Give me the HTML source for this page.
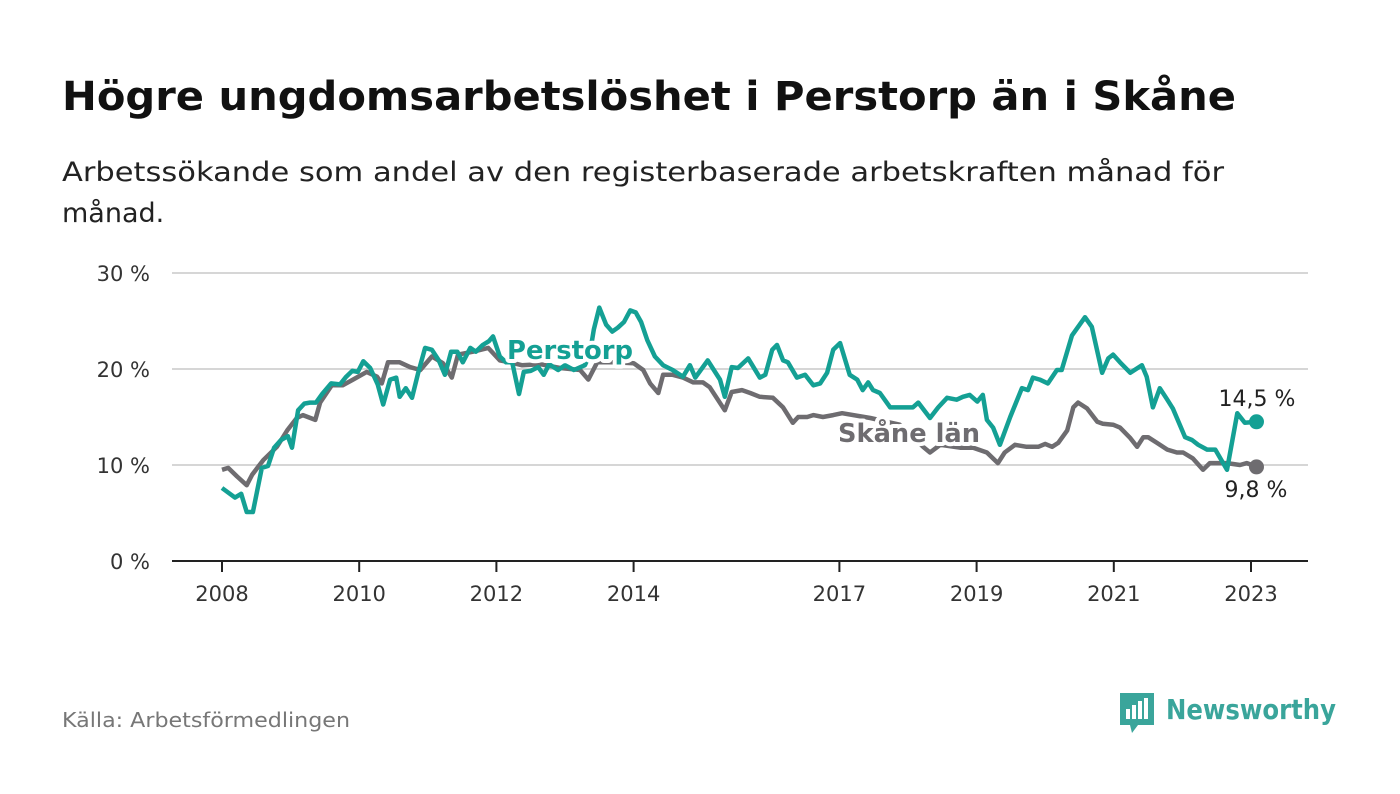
<!DOCTYPE html>
<html><head><meta charset="utf-8"><style>
html,body{margin:0;padding:0;background:#fff;}
svg{display:block;font-family:"DejaVu Sans","Liberation Sans",sans-serif;}
</style></head><body>
<svg id="chart" width="1400" height="794" viewBox="0 0 1400 794">
<text x="62" y="110" font-size="40" font-weight="bold" fill="#111" textLength="1174" lengthAdjust="spacingAndGlyphs">Högre ungdomsarbetslöshet i Perstorp än i Skåne</text>
<text x="62" y="181" font-size="27" fill="#222" textLength="1162" lengthAdjust="spacingAndGlyphs">Arbetssökande som andel av den registerbaserade arbetskraften månad för</text>
<text x="62" y="222" font-size="27" fill="#222">månad.</text>
<g id="grid"></g><g id="series"></g><g id="labels"></g>
<text x="62" y="727" font-size="20" fill="#777" textLength="288" lengthAdjust="spacingAndGlyphs">Källa: Arbetsförmedlingen</text>
<g>
<path d="M1120 693 h34 v32 h-16 l-6 8 l-2 -8 h-10 z" fill="#3aa59b"/>
<rect x="1126" y="709" width="4" height="10" fill="#fff"/><rect x="1132" y="705" width="4" height="14" fill="#fff"/><rect x="1138" y="701" width="4" height="18" fill="#fff"/><rect x="1144" y="698" width="4" height="21" fill="#fff"/>
<text x="1166" y="719" font-size="28" font-weight="bold" fill="#3aa59b" textLength="170" lengthAdjust="spacingAndGlyphs">Newsworthy</text>
</g>
</svg>
<script>
const yTicks = [0, 10, 20, 30];
const xTickYears = [2008, 2010, 2012, 2014, 2017, 2019, 2021, 2023];
const perstorpDates = [2008.00,2008.19,2008.28,2008.36,2008.45,2008.58,2008.67,2008.76,2008.86,2008.96,2009.02,2009.11,2009.20,2009.28,2009.37,2009.46,2009.59,2009.72,2009.81,2009.90,2009.98,2010.06,2010.16,2010.27,2010.35,2010.45,2010.54,2010.59,2010.68,2010.77,2010.86,2010.96,2011.06,2011.16,2011.25,2011.34,2011.43,2011.51,2011.62,2011.70,2011.80,2011.89,2011.95,2012.05,2012.14,2012.23,2012.33,2012.40,2012.50,2012.61,2012.69,2012.77,2012.90,2013.00,2013.13,2013.29,2013.36,2013.42,2013.50,2013.60,2013.69,2013.77,2013.86,2013.95,2014.03,2014.11,2014.20,2014.31,2014.43,2014.57,2014.72,2014.82,2014.90,2015.08,2015.26,2015.33,2015.43,2015.52,2015.67,2015.84,2015.92,2016.02,2016.09,2016.18,2016.25,2016.38,2016.50,2016.62,2016.72,2016.82,2016.91,2017.01,2017.15,2017.26,2017.34,2017.42,2017.49,2017.59,2017.74,2018.07,2018.15,2018.32,2018.44,2018.57,2018.71,2018.80,2018.90,2019.01,2019.09,2019.15,2019.24,2019.34,2019.49,2019.66,2019.75,2019.82,2019.92,2020.04,2020.17,2020.24,2020.39,2020.58,2020.68,2020.83,2020.92,2020.99,2021.09,2021.24,2021.41,2021.48,2021.57,2021.67,2021.78,2021.86,2022.04,2022.14,2022.23,2022.36,2022.48,2022.65,2022.80,2022.91,2023.08];
const perstorpValues = [7.6,6.6,7.0,5.1,5.1,9.7,9.9,11.8,12.6,13.0,11.8,15.7,16.4,16.5,16.5,17.4,18.5,18.4,19.2,19.8,19.7,20.8,20.1,18.4,16.3,18.9,19.1,17.1,18.0,17.0,19.6,22.2,22.0,20.9,19.4,21.8,21.8,20.7,22.2,21.8,22.5,22.9,23.4,21.3,20.7,20.7,17.4,19.7,19.8,20.2,19.4,20.5,19.9,20.4,19.9,20.4,21.5,24.1,26.4,24.6,23.9,24.3,24.9,26.1,25.9,24.9,23.0,21.3,20.4,19.9,19.2,20.4,19.1,20.9,18.9,17.1,20.2,20.1,21.1,19.1,19.4,22.0,22.5,20.9,20.7,19.1,19.4,18.3,18.5,19.6,22.0,22.7,19.4,18.9,17.8,18.6,17.8,17.5,16.0,16.0,16.5,14.9,16.0,17.0,16.8,17.1,17.3,16.6,17.3,14.7,13.9,12.1,15.0,18.0,17.8,19.1,18.9,18.5,19.9,19.9,23.5,25.4,24.4,19.6,21.1,21.5,20.7,19.6,20.4,19.2,16.0,18.0,16.8,15.9,12.9,12.6,12.1,11.6,11.6,9.5,15.4,14.4,14.5];
const skaneDates = [2008.00,2008.09,2008.22,2008.36,2008.44,2008.60,2008.80,2008.95,2009.09,2009.18,2009.36,2009.43,2009.60,2009.76,2009.91,2010.11,2010.26,2010.33,2010.42,2010.59,2010.74,2010.89,2011.06,2011.22,2011.35,2011.44,2011.66,2011.88,2012.05,2012.20,2012.37,2012.64,2012.93,2013.22,2013.34,2013.47,2013.73,2014.00,2014.14,2014.24,2014.36,2014.43,2014.57,2014.72,2014.87,2015.01,2015.11,2015.33,2015.43,2015.58,2015.70,2015.84,2016.03,2016.18,2016.32,2016.40,2016.53,2016.62,2016.76,2016.91,2017.04,2017.45,2017.88,2018.22,2018.32,2018.47,2018.76,2018.95,2019.15,2019.31,2019.41,2019.56,2019.73,2019.90,2020.00,2020.10,2020.19,2020.32,2020.41,2020.48,2020.61,2020.76,2020.84,2020.99,2021.09,2021.24,2021.34,2021.43,2021.50,2021.63,2021.78,2021.92,2022.01,2022.15,2022.30,2022.40,2022.65,2022.84,2022.94,2023.08];
const skaneValues = [9.5,9.7,8.8,7.9,9.0,10.5,11.9,13.6,14.9,15.2,14.7,16.5,18.3,18.3,18.9,19.7,19.2,18.5,20.7,20.7,20.2,19.9,21.3,20.6,19.1,21.5,21.8,22.2,20.9,20.7,20.4,20.5,20.1,19.9,18.9,20.7,20.7,20.6,19.9,18.5,17.5,19.4,19.4,19.1,18.6,18.6,18.1,15.7,17.6,17.8,17.5,17.1,17.0,16.0,14.4,15.0,15.0,15.2,15.0,15.2,15.4,14.9,14.2,11.9,11.3,12.1,11.8,11.8,11.3,10.2,11.3,12.1,11.9,11.9,12.2,11.9,12.3,13.6,16.0,16.5,15.9,14.5,14.3,14.2,13.9,12.8,11.9,12.9,12.9,12.3,11.6,11.3,11.3,10.7,9.5,10.2,10.2,10.0,10.2,9.8];
const NS='http://www.w3.org/2000/svg';
const xS = yr => 222 + (yr - 2008) * 68.6;
const yS = v => 561 - v * 9.6;
function mk(tag, attrs, parent){const e=document.createElementNS(NS,tag);for(const k in attrs)e.setAttribute(k,attrs[k]);parent.appendChild(e);return e;}
const grid=document.getElementById('grid'), series=document.getElementById('series'), labels=document.getElementById('labels');
yTicks.forEach(t=>{
  const l=mk('line',{x1:172,x2:1308,y1:yS(t),y2:yS(t),stroke:t===0?'#222':'#d6d6d6','stroke-width':2},grid);
  
  
  const tx=mk('text',{x:150,y:yS(t)+8,'text-anchor':'end','font-size':21,fill:'#333'},grid);
  tx.textContent=t+' %';
  
  
});
xTickYears.forEach(yr=>{
  const l=mk('line',{x1:xS(yr),x2:xS(yr),y1:561,y2:572,stroke:'#222','stroke-width':2},grid);
  
  
  const tx=mk('text',{x:xS(yr),y:601,'text-anchor':'middle','font-size':21,fill:'#333'},grid);
  tx.textContent=yr;
  
  
});
function line(dates, vals, color, name){
  const d=dates.map((t,i)=>(i?'L':'M')+xS(t).toFixed(1)+' '+yS(vals[i]).toFixed(1)).join(' ');
  const p=mk('path',{d:d,fill:'none',stroke:color,'stroke-width':4.5,'stroke-linejoin':'round'},series);
  
  
  const n=dates.length-1;
  const c=mk('circle',{cx:xS(dates[n]),cy:yS(vals[n]),r:7.5,fill:color},series);
  
  
}
line(skaneDates, skaneValues, '#6e6c70', 'skane');
line(perstorpDates, perstorpValues, '#14a094', 'perstorp');
function lab(txt,x,y,color,name,bold,anchor,size,len){
  const t=mk('text',{x:x,y:y,'font-size':size,'font-weight':bold?'bold':'normal',fill:color,stroke:'#fff','stroke-width':bold?8:5,'paint-order':'stroke','stroke-linejoin':'round','text-anchor':anchor},labels);
  if(len){t.setAttribute('textLength',len);t.setAttribute('lengthAdjust','spacingAndGlyphs');}
  t.textContent=txt;
  
  
}
lab('Perstorp',507,359,'#14a094','perstorp-series-label',true,'start',26,126);
lab('Skåne län',838,442,'#6e6c70','skane-series-label',true,'start',26,142);
const pl=perstorpValues[perstorpValues.length-1], sl=skaneValues[skaneValues.length-1];
lab(pl.toFixed(1).replace('.',',')+' %',1257,yS(pl)-16,'#222','perstorp-end-value',false,'middle',22);
lab(sl.toFixed(1).replace('.',',')+' %',1256,yS(sl)+30,'#222','skane-end-value',false,'middle',22);
</script>
</body></html>
